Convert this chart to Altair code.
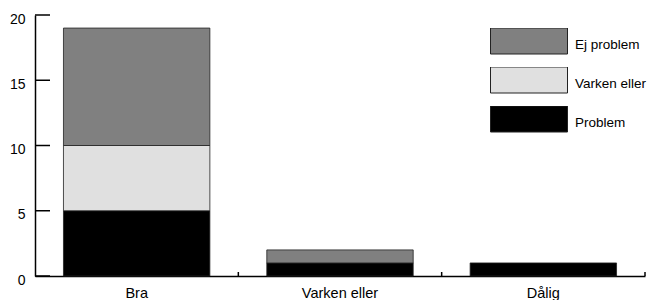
import altair as alt
import pandas as pd

categories = ["Bra", "Varken eller", "Dålig"]
series = ["Ej problem", "Varken eller", "Problem"]
colors = ["#808080", "#e0e0e0", "#000000"]
problem = [5, 1, 1]
varken = [5, 0, 0]
ej_problem = [9, 1, 0]
y_ticks = [0, 5, 10, 15, 20]

rows = []
for i, c in enumerate(categories):
    for s, vals, rank in [("Problem", problem, 0), ("Varken eller", varken, 1), ("Ej problem", ej_problem, 2)]:
        if vals[i] > 0:
            rows.append({"cat": c, "serie": s, "value": vals[i], "rank": rank})
df = pd.DataFrame(rows)
ticks_df = pd.DataFrame({"tick": y_ticks})
cat_df = pd.DataFrame({"cat": categories})

FONT = "Liberation Sans"
xscale = alt.Scale(type="band", domain=categories, paddingInner=0, paddingOuter=0)
yscale = alt.Scale(domain=[0, 20], nice=False, zero=True)

bars = alt.Chart(df).mark_bar(
    width=alt.RelativeBandSize(0.72), stroke="#222222", strokeWidth=0.8
).encode(
    x=alt.X("cat:N", scale=xscale, sort=categories, title=None,
            axis=alt.Axis(ticks=False, labelAngle=0, labelFontSize=14.5, labelFont=FONT,
                          labelColor="black", labelPadding=10, domainColor="black",
                          domainWidth=1.5, grid=False)),
    y=alt.Y("value:Q", stack="zero", scale=yscale, title=None,
            axis=alt.Axis(values=y_ticks, ticks=False, labelFontSize=14, labelFont=FONT,
                          labelColor="black", labelPadding=10, labelOffset=4,
                          domainColor="black", domainWidth=1.5, grid=False)),
    color=alt.Color("serie:N", scale=alt.Scale(domain=series, range=colors),
                    legend=alt.Legend(title=None, orient="none", legendX=455, legendY=13,
                                      symbolType="M-1,-0.442H1V0.234H-1Z", symbolSize=5929,
                                      symbolStrokeColor="#222222", symbolStrokeWidth=1,
                                      clipHeight=34, rowPadding=5, labelOffset=7,
                                      labelFontSize=13.5, labelFont=FONT, labelColor="black",
                                      labelLimit=0, padding=0)),
    order=alt.Order("rank:Q", sort="ascending"),
)

yticks = alt.Chart(ticks_df).mark_rule(color="black", strokeWidth=1.5).encode(
    y=alt.Y("tick:Q", scale=yscale, title=None),
    x=alt.value(0),
    x2=alt.value(15),
)

xticks = alt.Chart(cat_df).mark_rule(color="black", strokeWidth=1.5).encode(
    x=alt.X("cat:N", scale=xscale, sort=categories, bandPosition=1, title=None),
    y=alt.value(261),
    y2=alt.value(257),
)

chart = alt.layer(bars, yticks, xticks).properties(
    width=610, height=261,
    autosize=alt.AutoSizeParams(type="none"),
    padding={"left": 27, "top": 7, "right": 4, "bottom": 24},
).configure_view(stroke=None)

chart.save("out.html", embed_options={"renderer": "svg", "actions": False})
